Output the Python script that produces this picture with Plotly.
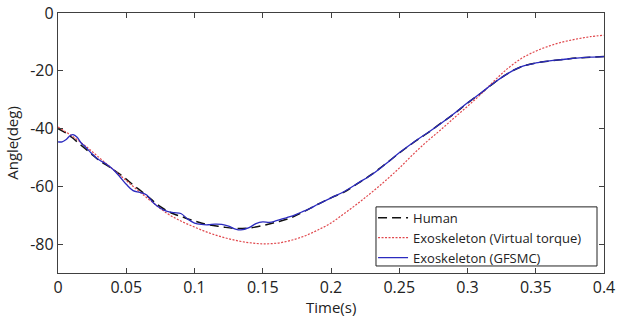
import plotly.graph_objects as go

# ---- data ----
t_human = [0, 0.005, 0.01, 0.015, 0.02, 0.025, 0.03, 0.035, 0.04, 0.045, 0.05, 0.055, 0.06,
           0.065, 0.07, 0.075, 0.08, 0.085, 0.09, 0.1, 0.11, 0.12, 0.13, 0.14, 0.15, 0.16,
           0.17, 0.18, 0.19, 0.2, 0.21, 0.22, 0.23, 0.24, 0.25, 0.26, 0.27, 0.28, 0.29, 0.3,
           0.31, 0.32, 0.33, 0.34, 0.35, 0.36, 0.37, 0.38, 0.39, 0.4]
human = [-40, -41.3, -43, -45, -47, -49, -51, -52.5, -54, -55.7, -57.5, -59.5, -61.3,
         -63.2, -65.2, -67, -68.5, -69.6, -70.4, -72, -73.3, -74, -74.6, -74.4, -73.6, -72.4,
         -71, -68.8, -66.3, -64, -61.9, -58.9, -55.8, -52.2, -48.5, -45, -41.8, -38.3, -35, -31.2,
         -27.7, -24, -20.8, -18.5, -17.3, -16.6, -16.1, -15.6, -15.3, -15.1]

t_virtual = [0, 0.01, 0.02, 0.03, 0.04, 0.05, 0.06, 0.07, 0.08, 0.09, 0.1, 0.11, 0.12, 0.13,
             0.14, 0.15, 0.16, 0.17, 0.18, 0.19, 0.2, 0.21, 0.22, 0.23, 0.24, 0.25, 0.26, 0.27,
             0.28, 0.29, 0.3, 0.31, 0.32, 0.33, 0.34, 0.35, 0.36, 0.37, 0.38, 0.39, 0.4]
virtual = [-39.5, -42.5, -46, -50, -54, -58, -62, -65.8, -69.4, -72, -74.1, -76, -77.5, -78.7,
           -79.5, -79.9, -79.7, -78.8, -77.3, -75.2, -72.7, -69.3, -65.8, -62, -58, -53.7, -49, -44.6,
           -40.6, -36.4, -32.3, -28, -23.3, -19, -15.6, -13.2, -11.4, -10, -9, -8.2, -7.7]

t_gfsmc = [0, 0.003, 0.006, 0.009, 0.011, 0.014, 0.017, 0.02, 0.025, 0.03, 0.035, 0.04, 0.045,
           0.05, 0.055, 0.06, 0.065, 0.07, 0.075, 0.08, 0.085, 0.09, 0.095, 0.1, 0.105, 0.11,
           0.115, 0.12, 0.125, 0.13, 0.134, 0.14, 0.145, 0.15, 0.155, 0.16, 0.165, 0.17, 0.175,
           0.18, 0.185, 0.19, 0.2, 0.21, 0.22, 0.23, 0.24, 0.25, 0.26, 0.27, 0.28, 0.29, 0.3,
           0.31, 0.32, 0.33, 0.34, 0.35, 0.36, 0.37, 0.38, 0.39, 0.4]
gfsmc = [-44.6, -44.6, -43.8, -42.4, -42.1, -43, -45, -46.3, -48.8, -50.8, -52.2, -54, -56.5,
         -59.3, -61.5, -62.1, -63, -65.8, -67.6, -68.7, -69.1, -69.4, -71.3, -72.7, -73.2, -73.3,
         -73.1, -73.2, -73.8, -74.8, -75.1, -74.3, -72.9, -72.3, -72.5, -71.9, -71.2, -70.5, -69.6,
         -68.6, -67.6, -66.3, -64, -61.7, -58.8, -55.9, -52.3, -48.4, -44.9, -41.7, -38.4, -34.9, -31.1,
         -27.6, -24, -20.8, -18.5, -17.3, -16.6, -16.1, -15.6, -15.3, -15.1]

x_ticks = [0, 0.05, 0.1, 0.15, 0.2, 0.25, 0.3, 0.35, 0.4]
x_labels = ["0", "0.05", "0.1", "0.15", "0.2", "0.25", "0.3", "0.35", "0.4"]
y_ticks = [0, -20, -40, -60, -80]
y_labels = ["0", "-20", "-40", "-60", "-80"]

FONT = "Open Sans"
TXT = "#222222"

fig = go.Figure()
fig.add_trace(go.Scatter(x=t_human, y=human, mode="lines", name="Human",
                         line=dict(color="#111111", width=1.5, dash="9px,5px", shape="spline")))
fig.add_trace(go.Scatter(x=t_virtual, y=virtual, mode="lines", name="Exoskeleton (Virtual torque)",
                         line=dict(color="#e0474c", width=1.2, dash="2px,1.5px", shape="spline")))
fig.add_trace(go.Scatter(x=t_gfsmc, y=gfsmc, mode="lines", name="Exoskeleton (GFSMC)",
                         line=dict(color="#2b2bbf", width=1.3, shape="spline")))

axis_common = dict(showgrid=False, zeroline=False, showline=True, linecolor="#404040",
                   linewidth=1.3, mirror="ticks", ticks="inside", ticklen=5, tickwidth=1.2,
                   tickcolor="#404040", automargin=False,
                   tickfont=dict(family=FONT, size=16, color=TXT))

fig.update_xaxes(range=[0, 0.4], tickvals=x_ticks, ticktext=x_labels, **axis_common)
fig.update_yaxes(range=[-90, 0], tickvals=y_ticks, ticktext=y_labels,
                 title=dict(text="Angle(deg)", font=dict(family=FONT, size=15, color=TXT), standoff=7),
                 **axis_common)

# x-axis title as an annotation, to sit as close to the tick labels as in the reference
fig.add_annotation(text="Time(s)", xref="paper", yref="paper", x=0.5, y=-0.13,
                   xanchor="center", yanchor="middle", showarrow=False,
                   font=dict(family=FONT, size=15, color=TXT))

fig.update_layout(
    width=618, height=320,
    margin=dict(l=58, r=14, t=13, b=47, autoexpand=False),
    paper_bgcolor="white", plot_bgcolor="white",
    font=dict(family=FONT, color=TXT),
    legend=dict(x=0.577, xanchor="left", y=0.27, yanchor="top",
                bgcolor="rgba(0,0,0,0)", borderwidth=0,
                font=dict(family=FONT, size=13, color=TXT),
                itemwidth=30, tracegroupgap=0),
    showlegend=True,
    # legend frame
    shapes=[dict(type="rect", xref="paper", yref="paper",
                 x0=0.5824, x1=0.9872, y0=0.027, y1=0.2543,
                 line=dict(color="#222222", width=1), layer="above")],
)

# remove the default 8px page margin so the 618x320 figure fills the window exactly
fig.write_html("out.html", post_script="document.body.style.margin='0';",
               config={"displayModeBar": False})
